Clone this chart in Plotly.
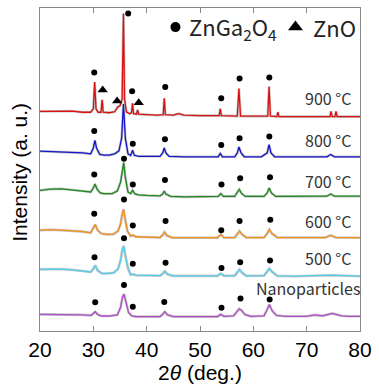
import plotly.graph_objects as go

# ---------------- data (2theta in deg, intensity in a.u., stacked) ----------------
x_900 = [20, 22, 24, 26, 28, 29.5, 30.0, 30.25, 30.5, 30.9, 31.45, 31.65, 31.85, 33, 34, 34.6, 35.0, 35.4, 35.65,
         35.85, 36.2, 36.8, 37.15, 37.35, 37.55, 38.1, 38.3, 38.5, 40, 42, 43.1, 43.3, 43.5, 45, 46, 47, 50, 53.6,
         53.8, 54.0, 57.0, 57.3, 57.6, 60, 62.7, 62.95, 63.2, 64.4, 64.6, 64.8, 68, 72, 74.4, 74.55, 74.8, 75.3,
         75.5, 75.7, 78, 80]
y_900 = [224.3, 224.5, 224.2, 224.7, 223.5, 223.5, 227, 254.3, 227, 223.5, 223.5, 236.3, 223.5, 223, 224, 229, 230,
         237, 324.3, 237, 224, 222, 223, 232.7, 222, 221.5, 226, 221.5, 221, 220.5, 221, 237.7, 221, 220.5, 222,
         220.5, 220, 220, 227, 220, 219.5, 247.7, 219.5, 219.5, 219.5, 249.7, 219.5, 219, 223.7, 219, 219, 219,
         219, 224.3, 219, 219, 224.3, 219, 219, 219]

x_800 = [20, 23, 26, 28, 29.5, 30.0, 30.3, 30.6, 31.2, 32, 33, 34, 34.8, 35.3, 35.65, 36.0, 36.5, 37.0, 37.35, 37.7,
         38.5, 40, 42.5, 43.0, 43.3, 43.6, 44.2, 47, 50, 53.4, 53.8, 54.2, 56.5, 57.0, 57.3, 57.7, 58.3, 61.5, 62.6,
         62.95, 63.3, 64, 68, 73.8, 74.5, 75.2, 78, 80]
y_800 = [183.7, 183.2, 182.7, 182, 181, 187, 194.7, 187, 180.5, 179.7, 179.7, 181, 184, 197, 232, 197, 181, 179.3,
         184.7, 179.5, 178.5, 178.5, 178.5, 182, 187, 182, 178.5, 178, 178, 178, 181.3, 178, 178, 182, 188, 182,
         178, 178, 182, 190.3, 182, 178, 178, 178, 180.3, 178, 178, 178]

x_700 = [20, 22, 24, 26, 28, 29.5, 30.0, 30.3, 30.7, 31.3, 32, 33.5, 34.5, 35.1, 35.4, 35.7, 36.0, 36.5, 37.0, 37.35,
         37.8, 38.5, 40, 42.5, 43.0, 43.3, 43.6, 44.5, 47, 50, 53.4, 53.9, 54.4, 56.5, 57.0, 57.35, 57.8, 58.5, 62.0,
         62.6, 62.95, 63.4, 64.2, 68, 73.8, 74.5, 75.2, 80]
y_700 = [143.7, 145, 145.3, 144.5, 143, 142, 146, 150.3, 145, 141, 140.3, 140.3, 143, 152, 165, 172, 157, 142, 140.3,
         143.7, 140, 139, 138.5, 138, 140, 143, 140, 137.5, 137, 137, 137.5, 140.3, 137.5, 137.5, 141, 144.7, 140.5,
         137.5, 137.5, 141, 146, 141, 137.5, 137.5, 137.7, 140, 137.7, 137.7]

x_600 = [20, 22, 24, 26, 28, 29.5, 30.0, 30.35, 30.8, 31.5, 32.5, 33.8, 34.6, 35.1, 35.4, 35.65, 35.95, 36.4, 37.0,
         37.4, 38.0, 40, 42.5, 43.0, 43.35, 43.8, 44.8, 48, 53.3, 53.9, 54.5, 56.5, 57.0, 57.4, 57.9, 58.7, 62.0,
         62.6, 63.0, 63.5, 64.5, 68, 73.5, 74.5, 75.5, 80]
y_600 = [103, 103.5, 103, 102.5, 101.5, 100.3, 105, 108.7, 103, 99.5, 98.7, 99, 102, 109, 119, 124.3, 115, 102, 97,
         98, 96.3, 96, 95.5, 98, 101, 97.5, 95.3, 95.3, 95.3, 98.7, 95.3, 95.5, 99, 102, 98.5, 95.5, 95.5, 99.5,
         103.7, 99.5, 95.5, 95.3, 95.5, 97.7, 95.5, 95.3]

x_500 = [20, 22, 24, 26, 28, 29.5, 30.0, 30.35, 30.8, 31.5, 32.5, 33.8, 34.6, 35.1, 35.4, 35.7, 36.0, 36.5, 37.0,
         37.4, 38.0, 40, 42.5, 43.0, 43.4, 43.9, 45, 48, 53.3, 53.9, 54.5, 56.5, 57.0, 57.4, 57.9, 58.7, 62.0, 62.6,
         63.0, 63.5, 64.5, 68, 74.5, 80]
y_500 = [63, 63.5, 63.3, 62.5, 61.5, 60.3, 63.5, 67, 62, 59, 58.7, 59.5, 63, 72, 82, 87, 77, 64, 57.5, 58, 57, 56.7,
         56.5, 58.5, 61, 58, 56.3, 56.3, 56.3, 58.7, 56.3, 56.5, 60, 62.7, 59.5, 56.3, 56.5, 60.5, 63.7, 60.5, 56.3,
         56, 57, 56]

x_nano = [20, 23, 26, 28, 29.6, 30.0, 30.35, 30.8, 31.5, 33, 34.5, 35.1, 35.45, 35.75, 36.1, 36.6, 37.2, 38, 40, 42.5,
          43.0, 43.4, 43.9, 45, 48, 53.3, 53.9, 54.5, 56.3, 56.9, 57.35, 57.8, 58.4, 59.5, 62.0, 62.6, 63.0, 63.5,
          64.3, 66, 70, 71.5, 73, 74.8, 76.5, 78, 80]
y_nano = [17, 17, 16.7, 16.5, 16, 17.5, 19.7, 17, 15.3, 15.3, 16.5, 24, 34, 37.7, 29, 19, 15.5, 14.7, 14.7, 14.7, 17,
          19.7, 16.5, 14.7, 14.7, 14.7, 17, 15, 15.5, 20, 22.7, 21, 17, 15, 15.5, 22, 27, 21, 16, 15, 15, 16.5, 15.5,
          18, 15.5, 15, 15]

# ZnGa2O4 peak markers (circles) and ZnO markers (triangles)
dot_x = [30.17, 36.54, 37.27, 43.48, 53.98, 57.42, 63.0,
         30.17, 37.4, 43.43, 53.98, 57.42, 63.0,
         30.17, 35.75, 37.4, 43.43, 54.03, 57.53, 63.13,
         30.17, 35.75, 37.4, 43.54, 53.98, 57.42, 63.18,
         30.22, 35.75, 37.4, 43.54, 54.03, 57.53, 63.13,
         30.35, 35.75, 37.4, 43.3, 54.03, 57.6, 63.06]
dot_y = [264, 324.3, 245, 249.3, 237.7, 258, 259,
         204.3, 191.3, 196, 190, 197, 198.7,
         160, 176, 149.7, 154.3, 149.7, 156, 157,
         119.7, 134.3, 107.7, 112.3, 103, 112.3, 113.7,
         75.3, 94.7, 68.7, 69.7, 64.3, 70.3, 72,
         29.3, 47, 24.7, 29.7, 23.7, 33.3, 32.3]
tri_x = [31.75, 34.46, 38.51]
tri_y = [246.3, 235, 233.3]

series_names = ["900 °C", "800 °C", "700 °C", "600 °C", "500 °C", "Nanoparticles"]
series_x = [x_900, x_800, x_700, x_600, x_500, x_nano]
series_y = [y_900, y_800, y_700, y_600, y_500, y_nano]
series_colors = ["#dd1010", "#1515cc", "#1e8a1e", "#f5901e", "#55d0ea", "#b050c8"]
label_xpaper = [0.977, 0.977, 0.977, 0.977, 0.977, 1.006]
label_y = [237.7, 195.3, 153, 112.7, 74.3, 43.7]

x_ticks = [20, 30, 40, 50, 60, 70, 80]

# ---------------- figure ----------------
fig = go.Figure()

# draw from bottom to top so the 900 °C curve sits on top
for i in reversed(range(len(series_x))):
    fig.add_trace(go.Scatter(x=series_x[i], y=series_y[i], mode="lines",
                             line=dict(color="rgba(150,150,150,0.55)", width=2.6),
                             hoverinfo="skip", showlegend=False))
    fig.add_trace(go.Scatter(x=series_x[i], y=series_y[i], mode="lines",
                             line=dict(color=series_colors[i], width=1.3),
                             name=series_names[i], showlegend=False))

fig.add_trace(go.Scatter(x=dot_x, y=dot_y, mode="markers",
                         marker=dict(symbol="circle", size=6, color="black"),
                         showlegend=False))
fig.add_trace(go.Scatter(x=tri_x, y=tri_y, mode="markers",
                         marker=dict(symbol="triangle-up", size=9, color="black"),
                         showlegend=False))

# legend (manual, inside the plot)
fig.add_trace(go.Scatter(x=[45.4], y=[310.5], mode="markers",
                         marker=dict(symbol="circle", size=10, color="black"), showlegend=False))
fig.add_trace(go.Scatter(x=[67.9], y=[310.5], mode="markers",
                         marker=dict(symbol="triangle-up", size=13, color="black"), showlegend=False))
fig.add_annotation(x=47.5, y=310.5, xref="x", yref="y", xanchor="left", yanchor="middle",
                   text="ZnGa<sub>2</sub>O<sub>4</sub>", showarrow=False,
                   font=dict(family="Noto Sans CJK JP", size=22, color="#222"))
fig.add_annotation(x=70.8, y=310.5, xref="x", yref="y", xanchor="left", yanchor="middle",
                   text="ZnO", showarrow=False,
                   font=dict(family="Noto Sans CJK JP", size=22, color="#222"))

for name, lx, ly in zip(series_names, label_xpaper, label_y):
    fig.add_annotation(x=lx, y=ly, xref="paper", yref="y", xanchor="right", yanchor="middle",
                       text=name, showarrow=False,
                       font=dict(family="Noto Sans CJK JP", size=16, color="#333"))

# y-axis title
fig.add_annotation(x=-0.02, y=0.49, xref="paper", yref="paper", xanchor="right", yanchor="middle",
                   text="Intensity (a. u.)", textangle=-90, showarrow=False,
                   font=dict(family="Liberation Sans", size=21, color="black"))

fig.update_layout(
    width=379, height=385,
    margin=dict(l=40, r=13, t=7, b=48),
    paper_bgcolor="white", plot_bgcolor="white",
    showlegend=False,
)
fig.update_xaxes(range=[20, 80], tickvals=x_ticks, ticks="inside", ticklen=5, tickcolor="#888",
                 showline=True, linecolor="#888", linewidth=1, mirror="ticks",
                 showgrid=False, zeroline=False,
                 tickfont=dict(family="Liberation Sans", size=21, color="black"),
                 title=dict(text="2<i>θ</i> (deg.)", standoff=2,
                            font=dict(family="Liberation Sans", size=21, color="black")))
fig.update_yaxes(range=[0, 330], showticklabels=False, ticks="",
                 showline=True, linecolor="#888", linewidth=1, mirror=True,
                 showgrid=False, zeroline=False)

fig.write_html("out.html")
